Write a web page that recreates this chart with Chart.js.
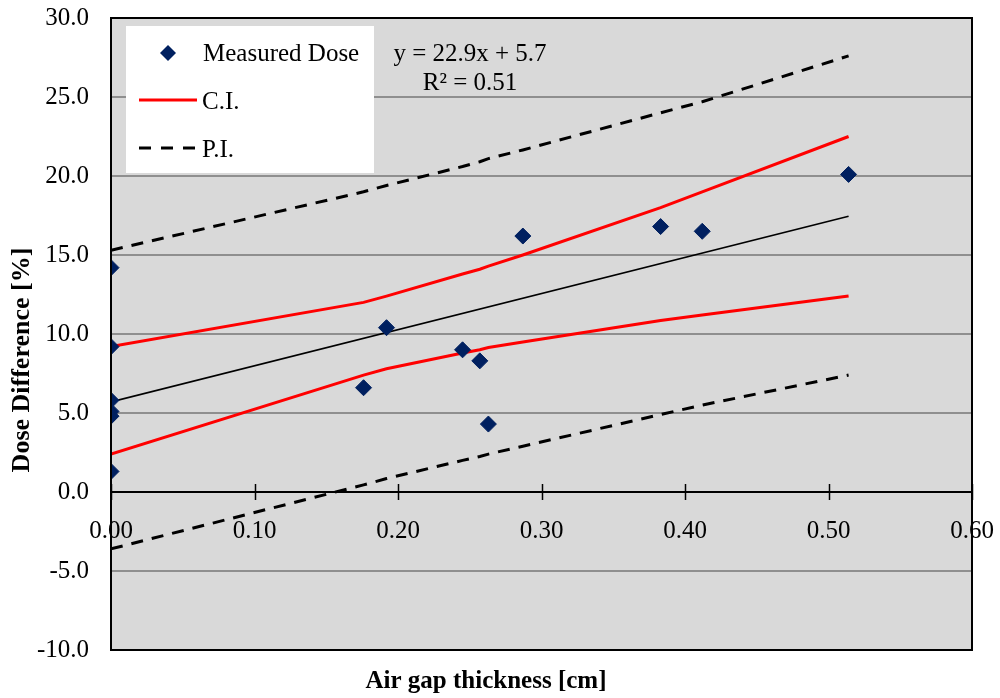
<!DOCTYPE html>
<html>
<head>
<meta charset="utf-8">
<script src="https://cdn.jsdelivr.net/npm/chart.js@4"></script>
<style>
  body { margin: 0; background: #ffffff; }
  canvas { display: block; }
</style>
</head>
<body>
<canvas id="chart1" width="1000" height="698"></canvas>
<script>
// measured points
var gapX = [0, 0, 0, 0, 0, 0, 0.176, 0.192, 0.245, 0.257, 0.263, 0.287, 0.383, 0.412, 0.514];
var doseY = [14.2, 9.2, 5.8, 5.1, 4.8, 1.3, 6.6, 10.4, 9.0, 8.3, 4.3, 16.2, 16.8, 16.5, 20.1];

// band x positions (sorted distinct air gaps)
var bandX = [0, 0.176, 0.192, 0.245, 0.257, 0.263, 0.287, 0.383, 0.412, 0.514];
var ciUpper = [9.2, 12.0, 12.4, 13.8, 14.1, 14.3, 15.0, 18.0, 19.0, 22.5];
var ciLower = [2.4, 7.4, 7.8, 8.8, 9.0, 9.15, 9.5, 10.85, 11.2, 12.4];
var piUpper = [15.3, 19.0, 19.4, 20.6, 20.9, 21.1, 21.65, 24.0, 24.7, 27.6];
var piLower = [-3.6, 0.45, 0.85, 2.0, 2.25, 2.4, 2.9, 4.9, 5.5, 7.4];

// trend line end points
var trendX = [0, 0.514];
var trendY = [5.7, 17.45];

var xTicks = [0, 0.1, 0.2, 0.3, 0.4, 0.5, 0.6];
var yTicks = [-10, -5, 0, 5, 10, 15, 20, 25, 30];

var SERIF = "'Liberation Serif', 'Times New Roman', serif";
var NAVY = '#002060';

function pts(xs, ys) {
  return xs.map(function (x, i) { return { x: x, y: ys[i] }; });
}

// plot background, frame, tick marks, legend and equation
var frame = {
  id: 'frame',
  beforeDraw: function (chart) {
    var a = chart.chartArea, c = chart.ctx;
    c.save();
    c.fillStyle = '#d9d9d9';
    c.fillRect(a.left, a.top, a.right - a.left, a.bottom - a.top);
    c.restore();
  },
  afterDraw: function (chart) {
    var a = chart.chartArea, c = chart.ctx;
    var xs = chart.scales.x, ys = chart.scales.y;
    c.save();
    c.strokeStyle = '#000000';
    c.lineWidth = 2;
    c.strokeRect(a.left, a.top, a.right - a.left, a.bottom - a.top);

    // x tick marks crossing the zero line
    var y0 = ys.getPixelForValue(0);
    c.lineWidth = 1.5;
    xTicks.forEach(function (v) {
      var px = Math.round(xs.getPixelForValue(v)) + 0.5;
      c.beginPath(); c.moveTo(px, y0 - 8); c.lineTo(px, y0 + 8); c.stroke();
    });

    // legend box
    c.fillStyle = '#ffffff';
    c.fillRect(126, 26, 248, 147);
    c.font = '25px ' + SERIF;
    c.textBaseline = 'middle';
    c.textAlign = 'left';
    // diamond
    c.fillStyle = NAVY;
    c.beginPath();
    c.moveTo(168, 45); c.lineTo(176, 53); c.lineTo(168, 61); c.lineTo(160, 53);
    c.closePath();
    c.fill();
    c.fillStyle = '#000000';
    c.fillText('Measured Dose', 203, 54);
    // C.I.
    c.strokeStyle = '#ff0000';
    c.lineWidth = 3;
    c.beginPath(); c.moveTo(139, 100); c.lineTo(197, 100); c.stroke();
    c.fillText('C.I.', 202, 102);
    // P.I.
    c.strokeStyle = '#000000';
    c.setLineDash([12, 10]);
    c.beginPath(); c.moveTo(139, 148); c.lineTo(197, 148); c.stroke();
    c.setLineDash([]);
    c.fillText('P.I.', 202, 150);

    // regression text
    c.textAlign = 'center';
    c.fillText('y = 22.9x + 5.7', 470, 54);
    c.fillText('R\u00B2 = 0.51', 470, 83);
    c.restore();
  }
};

var ctx1 = document.getElementById('chart1').getContext('2d');
var chart1 = new Chart(ctx1, {
  type: 'scatter',
  data: {
    datasets: [{
      label: 'Measured Dose',
      data: pts(gapX, doseY),
      pointStyle: 'rectRot',
      pointRadius: 8,
      backgroundColor: NAVY,
      borderColor: NAVY,
      borderWidth: 1
    }, {
      label: 'Linear',
      data: pts(trendX, trendY),
      showLine: true,
      pointRadius: 0,
      borderColor: '#000000',
      borderWidth: 1.6
    }, {
      label: 'C.I.',
      data: pts(bandX, ciUpper),
      showLine: true,
      pointRadius: 0,
      borderColor: '#ff0000',
      borderWidth: 3
    }, {
      label: 'C.I. low',
      data: pts(bandX, ciLower),
      showLine: true,
      pointRadius: 0,
      borderColor: '#ff0000',
      borderWidth: 3
    }, {
      label: 'P.I.',
      data: pts(bandX, piUpper),
      showLine: true,
      pointRadius: 0,
      borderColor: '#000000',
      borderWidth: 3,
      borderDash: [12, 9]
    }, {
      label: 'P.I. low',
      data: pts(bandX, piLower),
      showLine: true,
      pointRadius: 0,
      borderColor: '#000000',
      borderWidth: 3,
      borderDash: [12, 9]
    }]
  },
  options: {
    responsive: false,
    devicePixelRatio: 1,
    animation: false,
    layout: { padding: { top: 18, right: 28, left: 0, bottom: 0 } },
    plugins: {
      legend: { display: false },
      tooltip: { enabled: false },
      title: {
        display: true,
        position: 'bottom',
        text: 'Air gap thickness [cm]',
        color: '#000000',
        font: { family: SERIF, size: 25, weight: 'bold' },
        padding: { top: 17, bottom: 1 }
      }
    },
    scales: {
      x: {
        type: 'linear',
        min: 0,
        max: 0.6,
        position: { y: 0 },
        afterFit: function (scale) {
          scale.height = 0;
          scale.paddingLeft = 0;
          scale.paddingRight = 0;
        },
        afterBuildTicks: function (scale) {
          scale.ticks = xTicks.map(function (v) { return { value: v }; });
        },
        ticks: {
          color: '#000000',
          font: { family: SERIF, size: 25 },
          padding: 24,
          maxRotation: 0,
          callback: function (v) { return Number(v).toFixed(2); }
        },
        grid: {
          display: false,
          drawOnChartArea: false,
          drawTicks: false
        },
        border: { display: true, color: '#000000', width: 2 }
      },
      y: {
        min: -10,
        max: 30,
        afterFit: function (scale) {
          scale.width = 111;
          scale.paddingTop = 0;
          scale.paddingBottom = 0;
        },
        afterBuildTicks: function (scale) {
          scale.ticks = yTicks.map(function (v) { return { value: v }; });
        },
        ticks: {
          color: '#000000',
          font: { family: SERIF, size: 25 },
          padding: 22,
          callback: function (v) { return Number(v).toFixed(1); }
        },
        grid: {
          drawTicks: false,
          color: '#8f8f8f',
          lineWidth: 2
        },
        border: { display: true, color: '#000000', width: 2 },
        title: {
          display: true,
          text: 'Dose Difference [%]        ',
          color: '#000000',
          font: { family: SERIF, size: 26, weight: 'bold' },
          padding: { top: 7, bottom: 0 }
        }
      }
    }
  },
  plugins: [frame]
});
</script>
</body>
</html>
